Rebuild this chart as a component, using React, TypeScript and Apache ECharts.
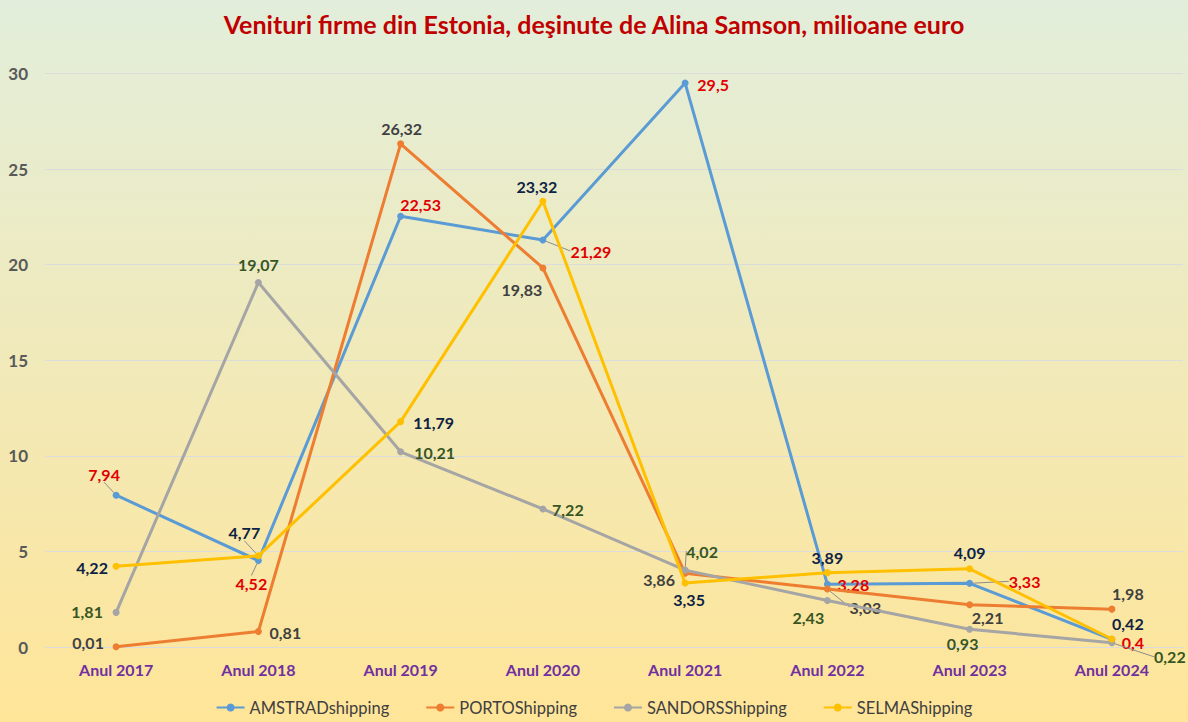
import React, { useEffect, useRef } from "react";
import * as echarts from "echarts";

const categories = ["Anul 2017", "Anul 2018", "Anul 2019", "Anul 2020", "Anul 2021", "Anul 2022", "Anul 2023", "Anul 2024"];
const seriesNames = ["AMSTRADshipping", "PORTOShipping", "SANDORSShipping", "SELMAShipping"];
const amstrad = [7.94, 4.52, 22.53, 21.29, 29.5, 3.28, 3.33, 0.4];
const porto = [0.01, 0.81, 26.32, 19.83, 3.86, 3.03, 2.21, 1.98];
const sandors = [1.81, 19.07, 10.21, 7.22, 4.02, 2.43, 0.93, 0.22];
const selma = [4.22, 4.77, 11.79, 23.32, 3.35, 3.89, 4.09, 0.42];
const yTicks = [0, 5, 10, 15, 20, 25, 30];

const lineColors = ["#5B9BD5", "#ED7D31", "#A5A5A5", "#FFC000"];
const labelColors = ["#E00000", "#404040", "#375623", "#0E2243"];

// label offsets (label centre relative to the point), and whether a leader line is drawn
const labelOffsets: [number, number][][] = [
  [[-12, -21], [-7, 23], [20, -12], [48, 11], [28, 1], [26, 0], [55, -2], [21, 3]],
  [[-28, -4], [27, 1], [1, -15], [-21, 22], [-26, 6], [38, 18], [18, 13], [16, -16]],
  [[-29, -1], [0, -18], [34, 1], [25, 1], [17, -19], [-19, 17], [-7, 14], [58, 14]],
  [[-24, 1], [-14, -23], [33, 1], [-6, -15], [4, 17], [0, -15], [0, -16], [16, -15]],
];
const leaders: boolean[][] = [
  [true, true, false, true, false, false, true, false],
  [false, false, false, false, false, true, false, false],
  [false, false, false, false, true, false, false, true],
  [false, true, false, false, false, false, false, false],
];

const allValues = [amstrad, porto, sandors, selma];

export default function App() {
  const ref = useRef<HTMLDivElement>(null);
  useEffect(() => {
    if (!ref.current) return;
    const chart = echarts.init(ref.current, null, { renderer: "svg" });
    const fontFamily = "Lato, 'Open Sans', sans-serif";
    const series = allValues.map((vals, s) => ({
      name: seriesNames[s],
      type: "line",
      data: vals.map((v, i) => ({
        value: v,
        labelLine: { show: leaders[s][i] },
      })),
      symbol: "circle",
      symbolSize: 7,
      lineStyle: { width: 3, color: lineColors[s] },
      itemStyle: { color: lineColors[s] },
      label: {
        show: true,
        position: "inside",
        align: "center",
        verticalAlign: "middle",
        color: labelColors[s],
        fontWeight: "bold",
        fontSize: 16,
        fontFamily,
        formatter: (p: any) => String(p.value).replace(".", ","),
      },
      labelLine: { show: false, lineStyle: { color: "#8C8C8C", width: 1 } },
      labelLayout: (p: any) => {
        const o = labelOffsets[s][p.dataIndex];
        return { dx: o[0], dy: o[1] };
      },
      z: 2 + s,
    }));

    chart.setOption({
      animation: false,
      backgroundColor: new echarts.graphic.LinearGradient(0, 0, 0, 1, [
        { offset: 0, color: "#E2EEDB" },
        { offset: 1, color: "#FFE598" },
      ]),
      title: {
        text: "Venituri firme din Estonia, deşinute de Alina Samson, milioane euro",
        left: "center",
        top: 6,
        textStyle: { color: "#C00000", fontWeight: "bold", fontSize: 25, fontFamily },
      },
      grid: { left: 45, right: 5, top: 73.5, bottom: 75, containLabel: false },
      legend: {
        bottom: 1,
        left: "center",
        itemWidth: 28,
        itemHeight: 10,
        itemGap: 36,
        textStyle: { color: "#404040", fontSize: 16.5, fontFamily },
        data: seriesNames,
      },
      xAxis: {
        type: "category",
        data: categories,
        boundaryGap: true,
        axisLine: { show: false },
        axisTick: { show: false },
        axisLabel: { color: "#7030A0", fontWeight: "bold", fontSize: 16, fontFamily, margin: 14 },
      },
      yAxis: {
        type: "value",
        min: yTicks[0],
        max: yTicks[yTicks.length - 1],
        interval: 5,
        axisLine: { show: false },
        axisTick: { show: false },
        splitLine: { lineStyle: { color: "#DCDCDC", width: 1 } },
        axisLabel: { color: "#595959", fontWeight: "bold", fontSize: 17, fontFamily, margin: 17 },
      },
      series,
    });
    return () => chart.dispose();
  }, []);
  return (
    <div
      ref={ref}
      style={{ position: "fixed", left: 0, top: 0, width: 1188, height: 722 }}
    />
  );
}
